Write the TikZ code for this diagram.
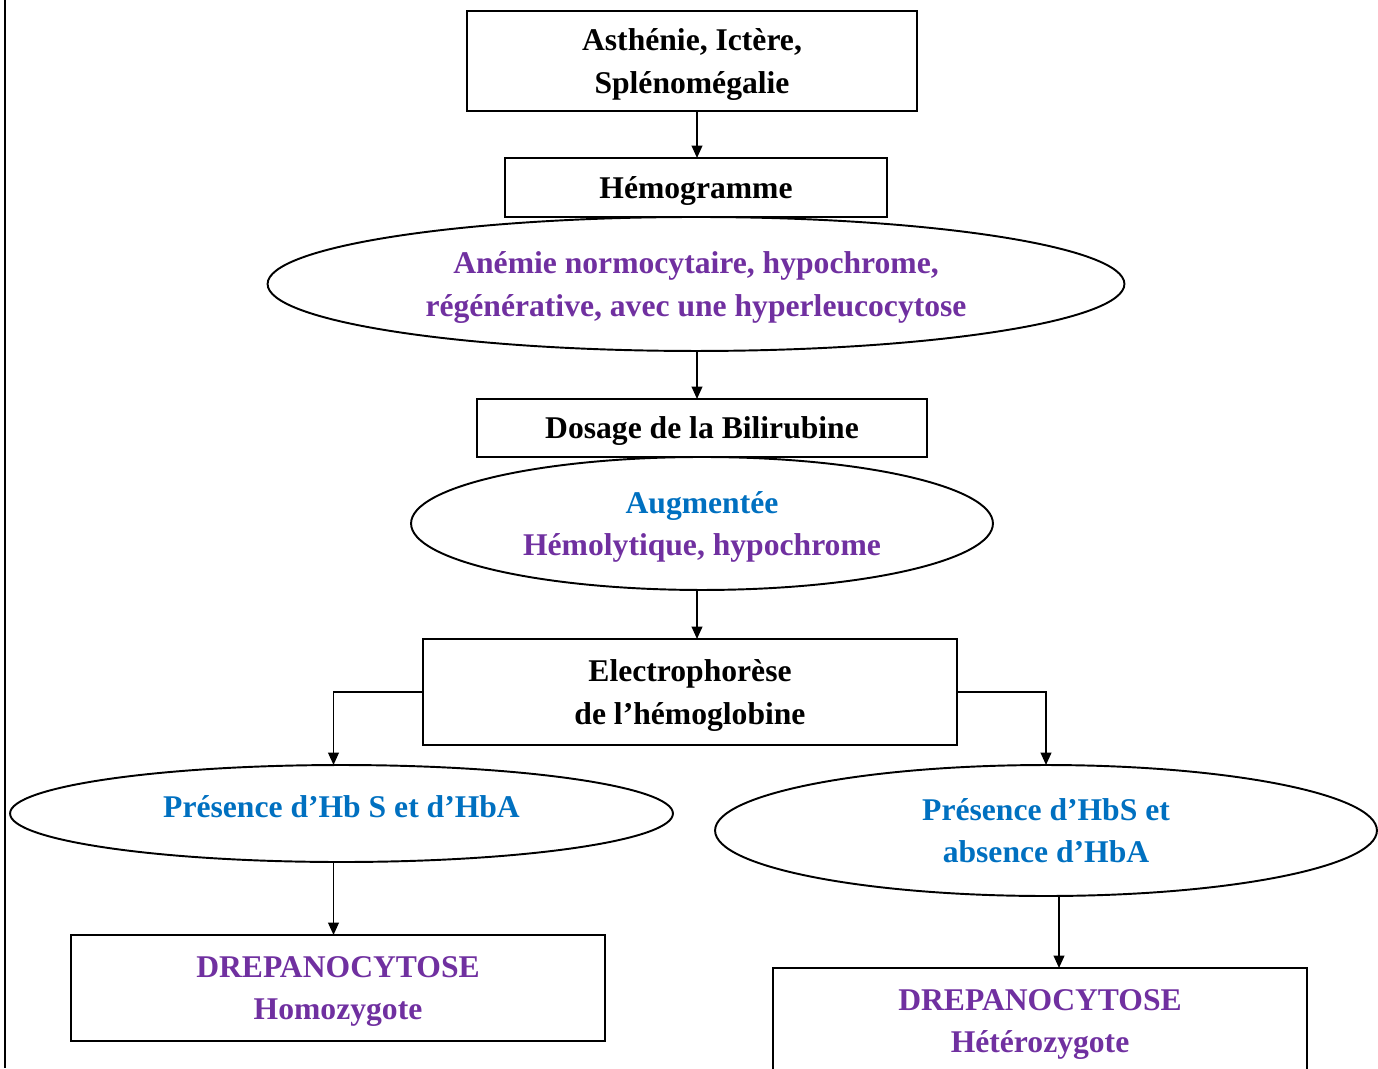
\documentclass[tikz,border=0pt]{standalone}
\usepackage{fontspec}
\setmainfont{Liberation Serif}
\usetikzlibrary{positioning, arrows.meta, shapes.geometric, calc}

\definecolor{hbblue}{RGB}{0,112,192}
\definecolor{hbpurple}{RGB}{112,48,160}

\begin{document}
\begin{tikzpicture}[
    x=0.02cm, y=-0.02cm,
    every node/.style={font=\bfseries\fontsize{18}{24}\selectfont, align=center, inner sep=0pt, outer sep=0pt, text depth=-2pt},
    boxnode/.style={draw, line width=1.1pt, rectangle},
    ovalnode/.style={draw, line width=1.1pt, ellipse},
    arrowstyle/.style={-{Triangle[length=7pt,width=6pt]}, line width=1.1pt}
]

\clip (0,0) rectangle (1378,1068);

% Page border on the left
\draw[line width=1.1pt] (5,0) -- (5,1068);

% Clinical signs and blood count
\node[boxnode, minimum width=9cm, minimum height=2cm] (symptoms) at (692,61) {Asthénie, Ictère,\\Splénomégalie};
\node[boxnode, minimum width=7.64cm, minimum height=1.18cm] (hemogram) at (696,187.5) {Hémogramme};
\node[ovalnode, below=0pt of hemogram, minimum width=17.14cm, minimum height=2.68cm, text=hbpurple] (anemia) {Anémie normocytaire, hypochrome,\\régénérative, avec une hyperleucocytose};

% Bilirubin
\node[boxnode, minimum width=9cm, minimum height=1.16cm] (bilirubin) at (702,428) {Dosage de la Bilirubine};
\node[ovalnode, below=0pt of bilirubin, minimum width=11.64cm, minimum height=2.66cm] (hemolysis) {\textcolor{hbblue}{Augmentée}\\\textcolor{hbpurple}{Hémolytique, hypochrome}};

% Electrophoresis
\node[boxnode, minimum width=10.68cm, minimum height=2.12cm] (electro) at (690,692) {Electrophorèse\\de l’hémoglobine};
\node[ovalnode, minimum width=13.26cm, minimum height=1.94cm, text=hbblue, text depth=8pt] (hbsa) at (341.5,813.5) {Présence d’Hb S et d’HbA};
\node[ovalnode, minimum width=13.24cm, minimum height=2.62cm, text=hbblue] (hbs) at (1046,830.5) {Présence d’HbS et\\absence d’HbA};

% Diagnosis
\node[boxnode, minimum width=10.68cm, minimum height=2.12cm, text=hbpurple] (homo) at (338,988) {DREPANOCYTOSE\\Homozygote};
\node[boxnode, minimum width=10.68cm, minimum height=2.12cm, text=hbpurple] (hetero) at (1040,1021) {DREPANOCYTOSE\\Hétérozygote};

% Arrows
\coordinate (spine) at (697,0);
\coordinate (ldrop) at ($(hbsa.north)+(-8,0)$);
\coordinate (rdrop) at ($(hbs.south)+(13,0)$);
\draw[arrowstyle] (symptoms.south -| spine) -- (hemogram.north -| spine);
\draw[arrowstyle] (anemia.south -| spine) -- (bilirubin.north -| spine);
\draw[arrowstyle] (hemolysis.south -| spine) -- (electro.north -| spine);
\draw[arrowstyle] (electro.west) -| (ldrop);
\draw[arrowstyle] (electro.east) -| (hbs.north);
\draw[arrowstyle] (hbsa.south -| ldrop) -- (homo.north -| ldrop);
\draw[arrowstyle] (rdrop) -- (hetero.north -| rdrop);

\end{tikzpicture}
\end{document}
